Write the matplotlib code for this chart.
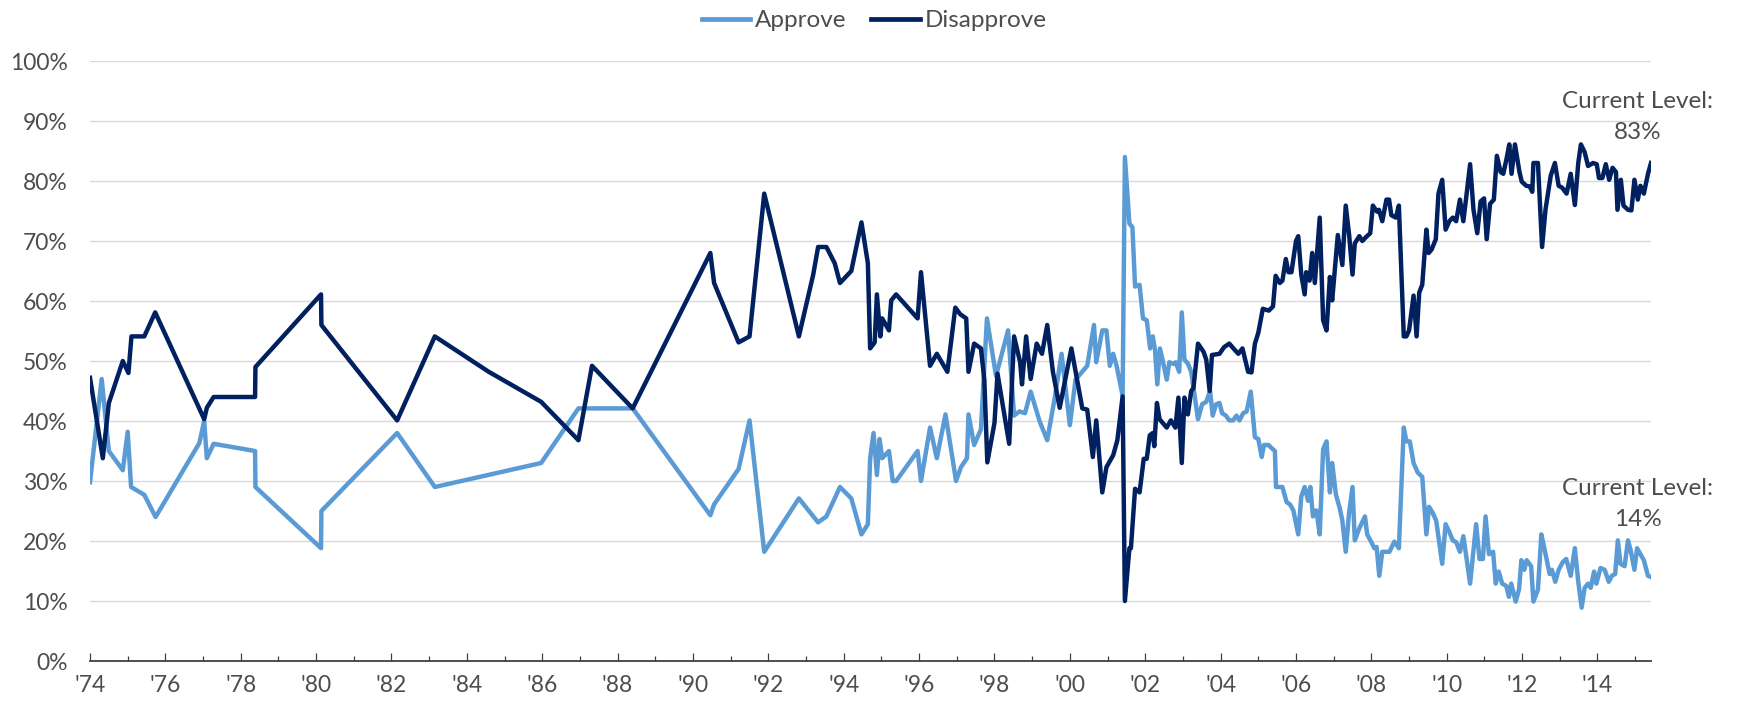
import matplotlib
matplotlib.use("Agg")
import matplotlib.pyplot as plt
from matplotlib.lines import Line2D
from matplotlib.ticker import FuncFormatter, MultipleLocator

plt.rcParams['font.family'] = ['Lato', 'DejaVu Sans']

# x in years (tick '74 = 1974.0), values in percent
approve_x = [
    1974.00, 1974.31, 1974.50, 1974.87, 1975.00, 1975.09, 1975.44, 1975.74, 1976.90, 1977.03,
    1977.10, 1977.28, 1978.38, 1978.39, 1980.13, 1980.14, 1982.15, 1983.15, 1985.97, 1986.96,
    1988.40, 1990.46, 1990.56, 1991.21, 1991.50, 1991.89, 1992.81, 1993.32, 1993.54, 1993.90,
    1994.20, 1994.47, 1994.64, 1994.70, 1994.79, 1994.88, 1994.95, 1995.02, 1995.20, 1995.30,
    1995.39, 1995.96, 1996.05, 1996.29, 1996.47, 1996.70, 1996.98, 1997.11, 1997.27, 1997.31,
    1997.46, 1997.64, 1997.80, 1998.04, 1998.36, 1998.52, 1998.66, 1998.81, 1998.96, 1999.20,
    1999.40, 1999.60, 1999.78, 2000.00, 2000.15, 2000.46, 2000.64, 2000.70, 2000.86, 2000.97,
    2001.06, 2001.15, 2001.24, 2001.40, 2001.46, 2001.58, 2001.66, 2001.73, 2001.85, 2001.94,
    2002.04, 2002.13, 2002.20, 2002.26, 2002.32, 2002.39, 2002.48, 2002.57, 2002.64, 2002.75,
    2002.81, 2002.90, 2002.97, 2003.04, 2003.13, 2003.22, 2003.31, 2003.40, 2003.51, 2003.62,
    2003.72, 2003.79, 2003.88, 2003.97, 2004.04, 2004.14, 2004.23, 2004.33, 2004.42, 2004.50,
    2004.60, 2004.69, 2004.80, 2004.91, 2005.00, 2005.09, 2005.15, 2005.27, 2005.35, 2005.44,
    2005.47, 2005.64, 2005.75, 2005.84, 2005.93, 2006.06, 2006.14, 2006.23, 2006.32, 2006.38,
    2006.45, 2006.54, 2006.63, 2006.72, 2006.81, 2006.90, 2006.96, 2007.06, 2007.16, 2007.23,
    2007.32, 2007.41, 2007.50, 2007.56, 2007.68, 2007.83, 2007.89, 2008.00, 2008.08, 2008.14,
    2008.21, 2008.29, 2008.48, 2008.61, 2008.73, 2008.86, 2008.93, 2009.02, 2009.12, 2009.23,
    2009.35, 2009.46, 2009.53, 2009.62, 2009.72, 2009.88, 2009.97, 2010.07, 2010.16, 2010.25,
    2010.35, 2010.44, 2010.51, 2010.62, 2010.78, 2010.87, 2010.96, 2011.03, 2011.12, 2011.23,
    2011.30, 2011.38, 2011.47, 2011.58, 2011.65, 2011.71, 2011.83, 2011.92, 2011.98, 2012.06,
    2012.12, 2012.24, 2012.30, 2012.42, 2012.51, 2012.60, 2012.73, 2012.79, 2012.88, 2012.97,
    2013.08, 2013.17, 2013.29, 2013.40, 2013.49, 2013.58, 2013.66, 2013.75, 2013.82, 2013.91,
    2013.97, 2014.08, 2014.19, 2014.30, 2014.38, 2014.47, 2014.54, 2014.61, 2014.72, 2014.81,
    2014.88, 2014.98, 2015.05, 2015.14, 2015.23, 2015.34, 2015.42,
]
approve_y = [
    29.8, 47.0, 35.0, 31.8, 38.2, 29.0, 27.7, 24.0, 36.3, 40.0,
    33.8, 36.2, 35.0, 29.0, 18.8, 25.0, 38.0, 29.0, 33.0, 42.1,
    42.1, 24.3, 26.1, 32.0, 40.1, 18.2, 27.1, 23.1, 24.1, 29.0,
    27.1, 21.1, 22.8, 33.7, 38.0, 31.0, 37.0, 33.8, 35.0, 30.0,
    30.0, 35.0, 30.0, 38.9, 33.8, 41.1, 30.0, 32.3, 33.8, 41.1,
    36.0, 38.6, 57.1, 47.5, 55.1, 40.9, 41.6, 41.3, 44.9, 39.9,
    36.8, 43.9, 51.2, 39.3, 46.9, 49.2, 56.0, 49.8, 55.1, 55.1,
    49.2, 51.2, 49.2, 44.2, 84.0, 72.9, 72.3, 62.4, 62.7, 57.1,
    56.8, 52.1, 54.1, 51.8, 46.1, 52.1, 49.6, 46.9, 49.8, 49.5,
    49.8, 48.2, 58.1, 50.2, 49.6, 48.2, 44.2, 40.3, 42.8, 43.2,
    45.0, 40.9, 42.8, 43.0, 41.3, 40.9, 40.1, 40.1, 40.9, 40.1,
    41.3, 41.6, 44.9, 37.3, 37.0, 34.0, 36.0, 36.0, 35.5, 35.0,
    29.0, 29.0, 26.5, 26.1, 25.1, 21.1, 27.4, 29.0, 26.7, 29.0,
    24.1, 25.1, 21.1, 35.3, 36.6, 28.1, 33.0, 27.7, 25.5, 23.4,
    18.2, 24.8, 29.0, 20.1, 22.1, 24.1, 21.1, 19.8, 18.8, 19.0,
    14.2, 18.2, 18.2, 19.9, 18.8, 38.9, 36.6, 36.6, 33.0, 31.4,
    30.7, 21.1, 25.7, 24.8, 23.4, 16.2, 22.8, 21.5, 20.1, 19.8,
    18.2, 20.8, 17.8, 12.9, 22.8, 17.0, 17.0, 24.1, 17.8, 18.2,
    12.9, 14.9, 12.9, 12.5, 10.7, 12.9, 9.9, 12.0, 16.8, 15.2,
    16.8, 15.8, 9.9, 11.9, 21.1, 18.5, 14.5, 15.2, 13.2, 15.2,
    16.5, 17.0, 14.2, 18.8, 13.2, 8.9, 12.2, 12.9, 12.2, 14.9,
    12.9, 15.5, 15.2, 13.2, 14.2, 14.5, 20.1, 16.2, 15.8, 20.1,
    18.5, 15.2, 18.8, 17.8, 16.8, 14.2, 14.0,
]

disapprove_x = [
    1974.00, 1974.34, 1974.50, 1974.87, 1975.02, 1975.10, 1975.44, 1975.73, 1977.03, 1977.10,
    1977.28, 1978.38, 1978.39, 1980.13, 1980.14, 1982.15, 1983.15, 1984.58, 1985.97, 1986.96,
    1987.32, 1988.40, 1990.46, 1990.56, 1991.21, 1991.50, 1991.89, 1992.81, 1993.19, 1993.32,
    1993.54, 1993.76, 1993.90, 1994.20, 1994.47, 1994.64, 1994.70, 1994.82, 1994.88, 1994.97,
    1995.02, 1995.20, 1995.26, 1995.39, 1995.96, 1996.05, 1996.29, 1996.47, 1996.75, 1996.96,
    1997.09, 1997.25, 1997.31, 1997.46, 1997.64, 1997.73, 1997.81, 1998.00, 1998.08, 1998.39,
    1998.52, 1998.68, 1998.73, 1998.84, 1998.96, 1999.12, 1999.26, 1999.40, 1999.55, 1999.73,
    2000.04, 2000.33, 2000.46, 2000.61, 2000.70, 2000.86, 2000.97, 2001.15, 2001.26, 2001.40,
    2001.46, 2001.58, 2001.62, 2001.73, 2001.85, 2001.96, 2002.04, 2002.12, 2002.20, 2002.24,
    2002.31, 2002.38, 2002.57, 2002.68, 2002.80, 2002.88, 2002.97, 2003.04, 2003.13, 2003.22,
    2003.28, 2003.40, 2003.55, 2003.62, 2003.71, 2003.77, 2003.97, 2004.09, 2004.23, 2004.34,
    2004.47, 2004.58, 2004.73, 2004.82, 2004.91, 2005.00, 2005.12, 2005.28, 2005.39, 2005.46,
    2005.57, 2005.64, 2005.73, 2005.80, 2005.88, 2006.00, 2006.06, 2006.14, 2006.23, 2006.27,
    2006.36, 2006.43, 2006.50, 2006.63, 2006.72, 2006.81, 2006.90, 2006.96, 2007.11, 2007.23,
    2007.32, 2007.41, 2007.50, 2007.56, 2007.68, 2007.76, 2007.85, 2007.97, 2008.04, 2008.15,
    2008.20, 2008.29, 2008.40, 2008.47, 2008.53, 2008.65, 2008.73, 2008.86, 2008.93, 2009.00,
    2009.12, 2009.20, 2009.27, 2009.35, 2009.46, 2009.52, 2009.60, 2009.71, 2009.78, 2009.88,
    2009.97, 2010.07, 2010.16, 2010.25, 2010.35, 2010.44, 2010.51, 2010.62, 2010.71, 2010.81,
    2010.90, 2010.99, 2011.06, 2011.15, 2011.25, 2011.33, 2011.43, 2011.50, 2011.59, 2011.66,
    2011.72, 2011.81, 2011.93, 2011.99, 2012.11, 2012.20, 2012.27, 2012.30, 2012.42, 2012.53,
    2012.62, 2012.76, 2012.87, 2012.97, 2013.06, 2013.18, 2013.29, 2013.40, 2013.49, 2013.56,
    2013.66, 2013.75, 2013.88, 2013.98, 2014.04, 2014.13, 2014.22, 2014.31, 2014.40, 2014.49,
    2014.53, 2014.62, 2014.69, 2014.81, 2014.90, 2014.98, 2015.07, 2015.14, 2015.23, 2015.34,
    2015.42,
]
disapprove_y = [
    47.2, 33.8, 43.0, 50.0, 48.0, 54.1, 54.1, 58.1, 40.3, 42.2,
    44.0, 44.0, 49.0, 61.1, 56.0, 40.1, 54.1, 48.2, 43.2, 36.8,
    49.2, 42.1, 68.0, 63.0, 53.1, 54.1, 77.9, 54.1, 64.4, 69.0,
    69.0, 66.3, 63.0, 65.0, 73.1, 66.3, 52.1, 53.1, 61.1, 54.1,
    57.1, 55.1, 60.1, 61.1, 57.1, 64.8, 49.2, 51.2, 48.2, 58.9,
    57.8, 57.1, 48.2, 52.9, 52.1, 46.9, 33.1, 39.7, 47.9, 36.2,
    54.1, 49.8, 46.1, 54.1, 47.0, 52.9, 51.2, 56.0, 48.2, 42.2,
    52.1, 42.1, 41.9, 34.0, 40.1, 28.1, 32.3, 34.3, 36.8, 44.1,
    10.0, 18.8, 18.8, 28.7, 28.1, 33.7, 33.7, 37.6, 38.0, 35.8,
    43.0, 40.3, 38.9, 40.1, 38.9, 43.9, 33.0, 43.9, 41.1, 45.0,
    45.5, 52.9, 51.5, 50.2, 45.0, 51.0, 51.2, 52.3, 52.9, 52.1,
    51.2, 52.1, 48.2, 48.1, 52.9, 54.7, 58.7, 58.4, 59.1, 64.2,
    63.0, 63.4, 67.0, 64.8, 64.8, 70.0, 70.8, 64.4, 61.1, 64.8,
    63.4, 68.0, 63.0, 73.9, 56.8, 55.1, 64.0, 60.1, 71.0, 66.0,
    75.9, 71.0, 64.4, 69.6, 70.8, 70.0, 70.6, 71.3, 75.9, 74.9,
    75.2, 73.3, 76.9, 76.9, 74.3, 73.9, 75.9, 54.1, 54.1, 55.1,
    60.9, 54.1, 61.4, 62.7, 71.9, 68.0, 68.6, 70.3, 77.9, 80.2,
    71.9, 73.3, 73.9, 73.3, 76.9, 73.3, 76.9, 82.8, 75.2, 71.3,
    76.6, 77.1, 70.3, 76.2, 76.9, 84.2, 81.5, 81.2, 83.8, 86.1,
    81.2, 86.1, 81.5, 79.9, 79.2, 79.1, 78.2, 83.0, 83.0, 69.0,
    75.2, 80.9, 83.0, 79.2, 78.9, 77.9, 81.2, 76.0, 83.0, 86.1,
    84.8, 82.5, 83.0, 82.8, 80.5, 80.5, 82.8, 80.2, 82.2, 81.5,
    75.2, 80.2, 75.9, 75.2, 75.1, 80.2, 76.9, 79.2, 77.9, 81.2,
    83.0,
]

approve_current = 14
disapprove_current = 83

light_blue = '#5B9BD5'
navy = '#002060'
text_grey = '#4D4D4D'

fig = plt.figure(figsize=(17.38, 7.07), dpi=100)
ax = fig.add_axes([90 / 1738, 1 - 661 / 707, (1651 - 90) / 1738, 600 / 707])

ax.plot(approve_x, approve_y, color=light_blue, lw=3.2, solid_joinstyle='round', zorder=3)
ax.plot(disapprove_x, disapprove_y, color=navy, lw=3.2, solid_joinstyle='round', zorder=4)

ax.set_xlim(1974, 2015.42)
ax.set_ylim(0, 100)

ax.yaxis.set_major_locator(MultipleLocator(10))
ax.yaxis.set_major_formatter(FuncFormatter(lambda v, p: f'{v:.0f}%'))
ax.grid(axis='y', color='#D9D9D9', lw=1.0)
ax.set_axisbelow(True)

ax.set_xticks(range(1974, 2015, 2))
ax.set_xticklabels([f"'{y % 100:02d}" for y in range(1974, 2015, 2)])
ax.set_xticks(range(1975, 2016, 2), minor=True)

ax.tick_params(axis='x', which='major', direction='in', length=5.5, width=0.9,
               color='#404040', labelsize=16.5, labelcolor=text_grey, pad=10)
ax.tick_params(axis='x', which='minor', direction='in', length=3.5, width=0.9, color='#404040')
ax.tick_params(axis='y', length=0, labelsize=16.5, labelcolor=text_grey, pad=16)

for side in ['top', 'right', 'left']:
    ax.spines[side].set_visible(False)
ax.spines['bottom'].set_color('#404040')
ax.spines['bottom'].set_linewidth(1.3)

# current level notes
note_x = 2015.07
for y, s in [(93.3, 'Current Level:'), (88.1, f'{disapprove_current}%'),
             (28.8, 'Current Level:'), (23.6, f'{approve_current}%')]:
    ax.text(note_x, y, s, ha='center', va='center', fontsize=17.5,
            color=text_grey, clip_on=False)

handles = [Line2D([], [], color=light_blue, lw=3.4), Line2D([], [], color=navy, lw=3.4)]
fig.legend(handles, ['Approve', 'Disapprove'], loc='center', bbox_to_anchor=(0.503, 0.971),
           ncol=2, frameon=False, fontsize=17.5, labelcolor=text_grey,
           handlelength=2.0, handletextpad=0.2, columnspacing=1.0)

fig.savefig('out.png', dpi=100)
